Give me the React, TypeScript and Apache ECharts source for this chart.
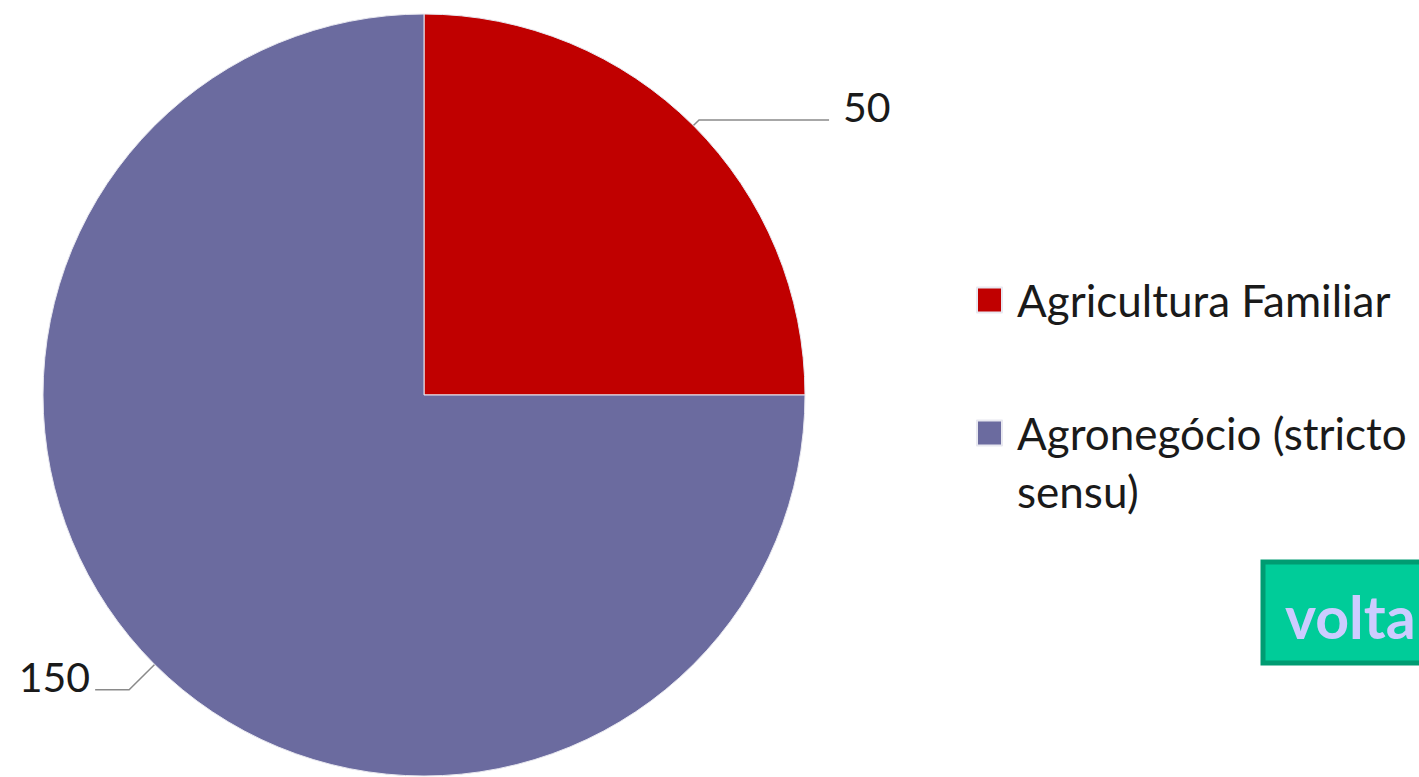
import React, { useEffect, useRef } from "react";
import * as echarts from "echarts";

const categories = ["Agricultura Familiar", "Agronegócio (stricto sensu)"];
const values = [50, 150];
const colors = ["#C00000", "#6B6B9F"];
const legendLabels = ["Agricultura Familiar", "\nAgronegócio (stricto\nsensu)"];
const buttonText = "volta";

export default function App() {
  const ref = useRef<HTMLDivElement>(null);
  useEffect(() => {
    if (!ref.current) return;
    const chart = echarts.init(ref.current, null, { renderer: "svg" });
    const font = "Lato";
    chart.setOption({
      animation: false,
      backgroundColor: "#ffffff",
      legend: {
        orient: "vertical",
        left: 971,
        top: 266,
        itemWidth: 45,
        itemHeight: 25,
        itemGap: 17,
        icon: "path://M0,0H25V25H0Z",
        symbolKeepAspect: true,
        selectedMode: false,
        data: categories,
        formatter: (name: string) => legendLabels[categories.indexOf(name)],
        textStyle: { fontFamily: font, fontSize: 44, color: "#1a1a1a", lineHeight: 58 },
      },
      graphic: [
        {
          type: "group",
          children: [
            {
              type: "rect",
              shape: { x: 1263, y: 562, width: 175, height: 101 },
              style: { fill: "#00CC99", stroke: "#009C72", lineWidth: 5 },
            },
            {
              type: "text",
              x: 1285,
              y: 616,
              style: {
                text: buttonText,
                fill: "#CCCCFF",
                font: "bold 59px Lato",
                verticalAlign: "middle",
              },
            },
          ],
        },
      ],
      series: [
        {
          type: "pie",
          center: [424, 395],
          radius: 381,
          startAngle: 90,
          clockwise: true,
          silent: true,
          itemStyle: { borderColor: "#e8e8f0", borderWidth: 1 },
          label: {
            show: true,
            formatter: "{c}\n ",
            fontFamily: font,
            fontSize: 41,
            lineHeight: 26,
            color: "#1a1a1a",
            distanceToLabelLine: 14,
          },
          labelLine: {
            show: true,
            lineStyle: { color: "#8a8a8a", width: 1.5 },
          },
          data: categories.map((name, i) => ({
            name,
            value: values[i],
            itemStyle: { color: colors[i] },
            label: i === 0 ? {} : { distanceToLabelLine: 5 },
            labelLine:
              i === 0 ? { length: 8, length2: 130 } : { length: 36, length2: 34 },
          })),
        },
      ],
    });
    return () => chart.dispose();
  }, []);
  return (
    <div
      ref={ref}
      style={{ position: "fixed", left: 0, top: 0, width: 1419, height: 777 }}
    />
  );
}
